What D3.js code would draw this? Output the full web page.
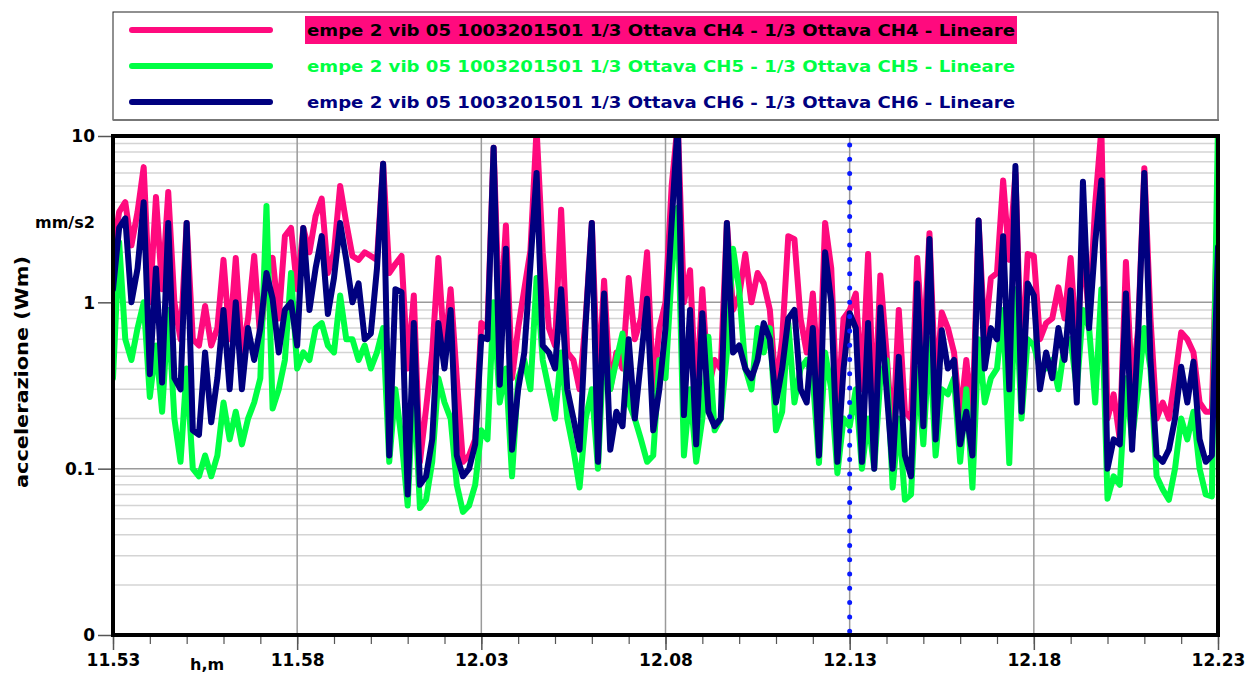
<!DOCTYPE html>
<html>
<head>
<meta charset="utf-8">
<script src="https://cdn.jsdelivr.net/npm/d3@7"></script>
<style>
  body { margin: 0; background: #fff; }
  text { font-family: "Comic Sans MS", "DejaVu Sans", sans-serif; font-weight: bold; }
</style>
</head>
<body>
<script>
// 1/3 octave acceleration (mm/s2), one sample every 10 s from 11:53:00 to 12:23:00
const ch4 = [
  2.0, 3.5, 4.0, 2.2, 3.5, 6.5, 1.0, 4.3, 1.2, 4.6, 1.0,
  0.6, 3.0, 0.6, 0.55, 0.95, 0.55, 0.7, 1.8, 0.6, 1.85,
  0.5, 0.8, 1.9, 0.6, 1.4, 1.85, 0.8, 2.5, 2.8, 1.2,
  2.8, 2.0, 3.3, 4.2, 1.5, 2.0, 5.0, 3.0, 1.9, 1.8,
  2.0, 1.9, 1.8, 6.8, 1.5, 1.7, 1.9, 0.4, 1.1, 0.11,
  0.23, 0.5, 1.85, 0.5, 1.2, 0.35, 0.11, 0.12, 0.15, 0.75,
  0.7, 8.5, 0.7, 2.9, 0.35, 0.7, 1.2, 2.05, 11, 2.0,
  0.7, 0.55, 3.6, 0.5, 0.45, 0.3, 0.8, 3.0, 0.3, 1.35,
  0.3, 0.5, 0.4, 1.4, 0.6, 0.8, 2.0, 0.3, 0.7, 1.0,
  5.0, 12, 1.0, 1.56, 0.25, 1.2, 0.3, 0.45, 0.4, 3.0,
  0.9, 1.1, 1.95, 1.0, 1.5, 1.3, 0.9, 0.3, 0.6, 2.5,
  2.4, 0.8, 0.5, 1.13, 0.3, 3.0, 1.6, 0.2, 0.8, 0.9,
  1.13, 0.3, 1.95, 0.2, 1.45, 0.5, 0.15, 0.9, 0.22, 0.2,
  1.85, 0.5, 2.6, 0.3, 0.87, 0.7, 0.5, 0.2, 0.45, 0.2,
  3.1, 0.6, 1.4, 1.5, 5.4, 1.8, 6.0, 0.4, 1.95, 1.9,
  0.6, 0.75, 0.8, 1.23, 0.8, 1.85, 0.5, 2.3, 0.8, 3.9,
  11, 0.2, 0.28, 0.15, 1.75, 0.3, 0.7, 6.4, 0.8, 0.2,
  0.25, 0.2, 0.35, 0.66, 0.6, 0.5, 0.25, 0.22, 0.22, 4.7
];
const ch5 = [
  0.35, 2.3, 0.6, 0.45, 0.7, 1.0, 0.27, 0.55, 0.22, 0.9, 0.2,
  0.11, 0.4, 0.1, 0.09, 0.12, 0.09, 0.12, 0.25, 0.15, 0.22,
  0.14, 0.2, 0.25, 0.35, 3.8, 0.23, 0.3, 0.45, 1.5, 0.4,
  0.5, 0.45, 0.7, 0.75, 0.55, 0.5, 1.1, 0.6, 0.6, 0.45,
  0.55, 0.4, 0.5, 0.7, 0.11, 0.3, 0.15, 0.06, 0.35, 0.058,
  0.065, 0.11, 0.35, 0.25, 0.2, 0.08, 0.055, 0.06, 0.08, 0.17,
  0.15, 1.0, 0.25, 0.4, 0.09, 0.35, 0.45, 0.3, 1.4, 0.45,
  0.3, 0.2, 0.5, 0.2, 0.13, 0.077, 0.2, 0.3, 0.1, 0.6,
  0.3, 0.45, 0.65, 0.25, 0.2, 0.15, 0.11, 0.12, 0.45, 0.35,
  1.5, 3.7, 0.12, 0.3, 0.11, 0.2, 0.62, 0.17, 0.2, 0.5,
  2.1, 1.2, 0.4, 0.3, 0.7, 0.5, 0.7, 0.17, 0.22, 0.75,
  0.25, 0.4, 0.45, 0.35, 0.108, 0.5, 0.3, 0.094, 0.2, 0.18,
  0.3, 0.1, 0.2, 0.1, 0.35, 0.45, 0.077, 0.2, 0.065, 0.07,
  0.4, 0.14, 0.6, 0.12, 0.3, 0.28, 0.35, 0.11, 0.3, 0.077,
  0.6, 0.25, 0.35, 0.4, 0.9, 0.108, 1.2, 0.2, 0.6, 0.55,
  0.4, 0.4, 0.45, 0.3, 0.55, 0.6, 0.3, 0.9, 0.7, 0.25,
  1.2, 0.066, 0.09, 0.08, 0.35, 0.15, 0.3, 0.7, 0.4, 0.09,
  0.075, 0.065, 0.1, 0.2, 0.15, 0.22, 0.1, 0.07, 0.068, 12
];
const ch6 = [
  1.2, 2.8, 3.2, 1.0, 1.6, 4.0, 0.37, 1.6, 0.33, 3.0, 0.35,
  0.3, 3.0, 0.17, 0.16, 0.5, 0.19, 0.35, 0.9, 0.3, 1.0,
  0.3, 0.7, 0.45, 0.7, 1.5, 1.05, 0.5, 0.9, 1.0, 0.55,
  2.8, 0.9, 1.6, 2.5, 0.85, 1.4, 3.0, 1.8, 1.0, 1.3,
  0.6, 0.65, 1.6, 6.8, 0.12, 1.2, 1.15, 0.07, 0.75, 0.08,
  0.09, 0.15, 0.75, 0.4, 0.9, 0.12, 0.09, 0.1, 0.14, 0.62,
  0.6, 8.5, 0.32, 2.1, 0.13, 0.3, 0.5, 1.7, 6.0, 0.55,
  0.5, 0.4, 1.2, 0.3, 0.2, 0.13, 0.75, 3.0, 0.11, 1.13,
  0.13, 0.22, 0.18, 0.6, 0.2, 0.45, 1.05, 0.17, 0.3, 0.7,
  3.0, 12, 0.21, 0.9, 0.14, 0.86, 0.22, 0.18, 0.2, 3.0,
  0.5, 0.55, 0.4, 0.35, 0.45, 0.75, 0.6, 0.25, 0.4, 0.8,
  0.9, 0.3, 0.25, 0.7, 0.12, 2.0, 1.0, 0.11, 0.4, 0.86,
  0.7, 0.11, 0.75, 0.1, 0.93, 0.3, 0.1, 0.47, 0.12, 0.09,
  1.3, 0.18, 2.4, 0.15, 0.68, 0.4, 0.45, 0.14, 0.22, 0.12,
  3.1, 0.4, 0.7, 0.6, 2.5, 0.3, 6.6, 0.22, 1.3, 1.1,
  0.3, 0.5, 0.35, 0.7, 0.45, 1.18, 0.25, 5.3, 0.7, 2.3,
  5.4, 0.1, 0.15, 0.14, 1.13, 0.13, 0.65, 6.0, 0.45, 0.12,
  0.11, 0.13, 0.2, 0.41, 0.25, 0.44, 0.15, 0.11, 0.12, 2.15
];

const legendNames = [
  "empe 2 vib 05 1003201501 1/3 Ottava CH4 - 1/3 Ottava CH4 - Lineare",
  "empe 2 vib 05 1003201501 1/3 Ottava CH5 - 1/3 Ottava CH5 - Lineare",
  "empe 2 vib 05 1003201501 1/3 Ottava CH6 - 1/3 Ottava CH6 - Lineare"
];
const colors = ["#ff0a7e", "#00ff44", "#00007f"];
const yTickVals = [10, 1, 0.1, 0.01];
const yTickText = ["10", "1", "0.1", "0"];
const xTickText = ["11.53", "11.58", "12.03", "12.08", "12.13", "12.18", "12.23"];
const markerLabel = "12.13";

const parseHM = d3.timeParse("%Y-%m-%d %H.%M");
const hm = s => parseHM("2015-03-10 " + s);
const t0 = hm(xTickText[0]);
const t1 = hm(xTickText[xTickText.length - 1]);
const stepMs = 10000;

const W = 1249, H = 675;
const plotL = 113, plotR = 1218, plotT = 136, plotB = 635;

const svg = d3.select("body").append("svg")
  .attr("width", W).attr("height", H);

const x = d3.scaleTime().domain([t0, t1]).range([plotL, plotR]);
const y = d3.scaleLog().domain([0.01, 10]).range([plotB, plotT]);

// legend box
svg.append("rect")
  .attr("x", 113).attr("y", 12).attr("width", 1105).attr("height", 108)
  .attr("fill", "#fff").attr("stroke", "#222").attr("stroke-width", 1);
svg.append("line")
  .attr("x1", 113).attr("x2", 1219).attr("y1", 120).attr("y2", 120)
  .attr("stroke", "#777").attr("stroke-width", 2);

legendNames.forEach((name, i) => {
  const ly = 30 + i * 36;
  svg.append("line")
    .attr("x1", 132).attr("x2", 270).attr("y1", ly).attr("y2", ly)
    .attr("stroke", colors[i]).attr("stroke-width", 6).attr("stroke-linecap", "round");
  if (i === 0) {
    svg.append("rect").attr("x", 305).attr("y", 16).attr("width", 712).attr("height", 28)
      .attr("fill", colors[0]);
  }
  svg.append("text")
    .attr("x", 307).attr("y", ly + 6)
    .attr("font-size", 16)
    .attr("textLength", 708).attr("lengthAdjust", "spacingAndGlyphs")
    .attr("fill", i === 0 ? "#000" : colors[i])
    .text(name);
});

// grid
const yGrid = y.ticks();
svg.append("g").selectAll("line")
  .data(yGrid.filter(v => ![0.01, 0.1, 1, 10].some(d => Math.abs(v - d) < 1e-9)))
  .join("line")
  .attr("x1", plotL).attr("x2", plotR)
  .attr("y1", d => y(d)).attr("y2", d => y(d))
  .attr("stroke", "#d4d4d4").attr("stroke-width", 1.5);
svg.append("g").selectAll("line")
  .data([0.1, 1])
  .join("line")
  .attr("x1", plotL).attr("x2", plotR)
  .attr("y1", d => y(d)).attr("y2", d => y(d))
  .attr("stroke", "#9a9a9a").attr("stroke-width", 1.5);

const majorTimes = xTickText.map(hm);
svg.append("g").selectAll("line")
  .data(majorTimes.slice(1, -1))
  .join("line")
  .attr("x1", d => x(d)).attr("x2", d => x(d))
  .attr("y1", plotT).attr("y2", plotB)
  .attr("stroke", "#9a9a9a").attr("stroke-width", 1.5);

// series
svg.append("clipPath").attr("id", "plotclip")
  .append("rect").attr("x", plotL).attr("y", plotT).attr("width", plotR - plotL).attr("height", plotB - plotT);

const line = d3.line()
  .x((d, i) => x(new Date(t0.getTime() + i * stepMs)))
  .y(d => y(d));

const plot = svg.append("g").attr("clip-path", "url(#plotclip)");
[ch4, ch5, ch6].forEach((s, i) => {
  plot.append("path")
    .datum(s)
    .attr("d", line)
    .attr("fill", "none")
    .attr("stroke", colors[i])
    .attr("stroke-width", 6)
    .attr("stroke-linejoin", "round")
    .attr("stroke-linecap", "round");
});

// cursor line at 12.13
const mx = x(hm(markerLabel));
svg.append("line")
  .attr("x1", mx).attr("x2", mx)
  .attr("y1", 145).attr("y2", plotB)
  .attr("stroke", "#0a1aff").attr("stroke-width", 5)
  .attr("stroke-linecap", "round").attr("stroke-dasharray", "0 14.3");

// frame
svg.append("rect")
  .attr("x", plotL).attr("y", plotT).attr("width", plotR - plotL).attr("height", plotB - plotT)
  .attr("fill", "none").attr("stroke", "#000").attr("stroke-width", 4);

// y axis
const yAxis = d3.axisLeft(y)
  .tickValues(yTickVals)
  .tickSize(13)
  .tickFormat((d, i) => yTickText[i]);
const gy = svg.append("g").attr("transform", `translate(${plotL - 2},0)`).call(yAxis);
gy.select(".domain").remove();
gy.selectAll(".tick line").attr("stroke", "#555").attr("stroke-width", 1.5);
gy.selectAll(".tick text")
  .attr("font-size", 17).attr("fill", "#000").attr("x", -16).attr("dy", "0.35em");

// x axis: minute ticks and 5-minute labelled ticks
const minorAxis = d3.axisBottom(x)
  .ticks(d3.timeMinute.every(1)).tickSize(7).tickFormat("");
const gxm = svg.append("g").attr("transform", `translate(0,${plotB + 2})`).call(minorAxis);
gxm.select(".domain").remove();
gxm.selectAll(".tick line").attr("stroke", "#555").attr("stroke-width", 1.2);

const xAxis = d3.axisBottom(x)
  .tickValues(majorTimes)
  .tickSize(13)
  .tickFormat((d, i) => xTickText[i]);
const gx = svg.append("g").attr("transform", `translate(0,${plotB + 2})`).call(xAxis);
gx.select(".domain").remove();
gx.selectAll(".tick line").attr("stroke", "#555").attr("stroke-width", 1.5);
gx.selectAll(".tick text").attr("font-size", 17).attr("fill", "#000").attr("y", 17);

// axis titles
svg.append("text")
  .attr("transform", "translate(28,372) rotate(-90)")
  .attr("text-anchor", "middle")
  .attr("font-size", 17)
  .attr("textLength", 232).attr("lengthAdjust", "spacingAndGlyphs")
  .text("accelerazione (Wm)");
svg.append("text")
  .attr("x", 35).attr("y", 228)
  .attr("font-size", 16)
  .text("mm/s2");
svg.append("text")
  .attr("x", 190).attr("y", 670)
  .attr("font-size", 16)
  .text("h,m");
</script>
</body>
</html>
